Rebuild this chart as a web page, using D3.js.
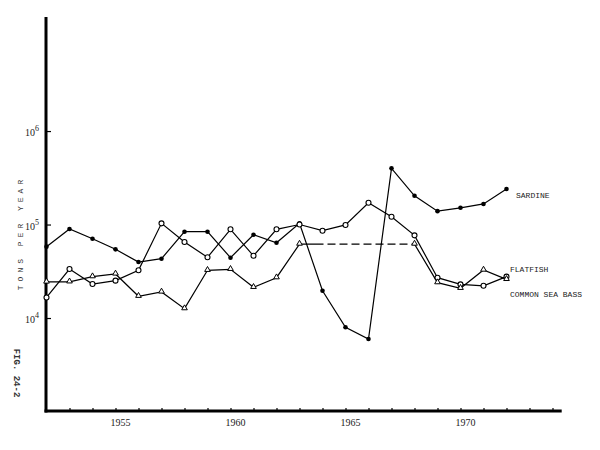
<!DOCTYPE html>
<html>
<head>
<meta charset="utf-8">
<script src="https://cdn.jsdelivr.net/npm/d3@7"></script>
<style>
  html, body { margin: 0; padding: 0; background: #fff; }
  svg { display: block; }
  text { white-space: pre; }
</style>
</head>
<body>
<svg id="chart" width="600" height="450"></svg>
<script>
// ---- data (tons per year) ----
const years = [1952,1953,1954,1955,1956,1957,1958,1959,1960,1961,1962,1963,1964,1965,1966,1967,1968,1969,1970,1971,1972];
const sardine = [58000,89500,70500,54300,39700,43100,83800,83800,44200,77800,63800,103000,19600,7960,5960,399000,203000,139000,151000,166000,240000];
const seaBass = [16600,33400,23100,25100,32400,103000,65000,44600,88900,46300,88900,100000,85900,99000,171000,121000,76600,27000,22900,22100,27700];
const flatfish = [24300,24400,27700,29600,17100,19000,12600,32400,33200,21300,27000,61800,null,null,null,null,61800,23900,20800,32600,25900];
const yTickValues = [1e4, 1e5, 1e6];
const yTickExponents = ["4", "5", "6"];
const xTickYears = d3.range(1953, 1975);
const xLabelYears = [1955, 1960, 1965, 1970];
const seriesLabels = ["SARDINE", "FLATFISH", "COMMON SEA BASS"];

const svg = d3.select("#chart");
const x = d3.scaleLinear().domain([1952, 1974.4]).range([46.5, 561.7]);
const y = d3.scaleLog().domain([1e3, Math.pow(10, 7.22)]).range([411.5, 17]);

const serif = "'Liberation Serif', 'DejaVu Serif', serif";
const mono = "'Liberation Mono', 'DejaVu Sans Mono', monospace";

// x axis ticks (upward) and labels
const xAxis = d3.axisBottom(x)
  .tickValues(xTickYears)
  .tickSizeInner(-3).tickSizeOuter(0)
  .tickFormat(() => "");
const gx = svg.append("g").attr("transform", "translate(0,411)").call(xAxis);
gx.select(".domain").remove();
gx.selectAll(".tick line").attr("stroke", "#000").attr("stroke-width", 1.2);

svg.append("g").selectAll("text").data(xLabelYears).join("text")
  .attr("x", d => x(d) + 5)
  .attr("y", 426)
  .attr("text-anchor", "middle")
  .attr("font-family", serif)
  .attr("font-size", 10)
  .attr("fill", "#222")
  .text(d => d);

// y axis ticks (to the right)
const yAxis = d3.axisRight(y).tickValues(yTickValues).tickSizeInner(5).tickSizeOuter(0).tickFormat(() => "");
const gy = svg.append("g").attr("transform", "translate(46,0)").call(yAxis);
gy.select(".domain").remove();
gy.selectAll(".tick line").attr("stroke", "#000").attr("stroke-width", 1.2);

const yl = svg.append("g").selectAll("text").data(yTickValues).join("text")
  .attr("x", 25)
  .attr("y", d => y(d) + 5)
  .attr("font-family", serif)
  .attr("font-size", 10)
  .attr("fill", "#222");
yl.append("tspan").text("10");
yl.append("tspan").attr("dy", -5).attr("font-size", 8).text((d, i) => yTickExponents[i]);

// thick axis lines
svg.append("line").attr("x1", 46).attr("x2", 46).attr("y1", y.range()[1]).attr("y2", 412.5)
  .attr("stroke", "#000").attr("stroke-width", 3);
svg.append("line").attr("x1", 44.5).attr("x2", x.range()[1]).attr("y1", 411).attr("y2", 411)
  .attr("stroke", "#000").attr("stroke-width", 3);

// axis title (vertical, spaced letters)
svg.append("text")
  .attr("transform", "translate(23,233) rotate(-90)")
  .attr("text-anchor", "middle")
  .attr("font-family", mono)
  .attr("font-size", 8)
  .attr("letter-spacing", 4)
  .attr("fill", "#333")
  .text("TONS PER YEAR");

svg.append("text")
  .attr("transform", "translate(14,373) rotate(90)")
  .attr("text-anchor", "middle")
  .attr("font-family", mono)
  .attr("font-size", 9)
  .attr("font-weight", "bold")
  .attr("fill", "#333")
  .text("FIG. 24-2");

// lines
const line = d3.line()
  .defined(d => d[1] != null)
  .x(d => x(d[0]))
  .y(d => y(d[1]));

function drawSeries(values) {
  const pts = years.map((yr, i) => [yr, values[i]]);
  svg.append("path").datum(pts)
    .attr("d", line)
    .attr("fill", "none")
    .attr("stroke", "#000")
    .attr("stroke-width", 1.2);
  return pts.filter(d => d[1] != null);
}

const sPts = drawSeries(sardine);
const bPts = drawSeries(seaBass);
const fPts = drawSeries(flatfish);

// dashed bridge over missing flatfish years
const fAll = years.map((yr, i) => [yr, flatfish[i]]);
const gapStart = fAll[flatfish.findIndex(v => v == null) - 1];
const gapEnd = fAll[flatfish.length - 1 - [...flatfish].reverse().findIndex(v => v == null) + 1];
svg.append("line")
  .attr("x1", x(gapStart[0])).attr("y1", y(gapStart[1]))
  .attr("x2", x(gapEnd[0])).attr("y2", y(gapEnd[1]))
  .attr("stroke", "#000").attr("stroke-width", 1.2)
  .attr("stroke-dasharray", "24,4,8,4,8,4,8,4,8,4,8,4,8,4,8,4,8,4,8,4");

// markers
svg.append("g").selectAll("circle").data(sPts).join("circle")
  .attr("cx", d => x(d[0])).attr("cy", d => y(d[1])).attr("r", 2.3)
  .attr("fill", "#000");

svg.append("g").selectAll("circle").data(bPts).join("circle")
  .attr("cx", d => x(d[0])).attr("cy", d => y(d[1])).attr("r", 2.5)
  .attr("fill", "#fff").attr("stroke", "#000").attr("stroke-width", 1.1);

const tri = d3.symbol().type(d3.symbolTriangle).size(14);
svg.append("g").selectAll("path").data(fPts).join("path")
  .attr("transform", d => `translate(${x(d[0])},${y(d[1]) - 0.5})`)
  .attr("d", tri)
  .attr("fill", "#fff").attr("stroke", "#000").attr("stroke-width", 1);

// series labels
const labelPos = [[516, 198], [510, 272], [510, 297]];
svg.append("g").selectAll("text").data(seriesLabels).join("text")
  .attr("x", (d, i) => labelPos[i][0])
  .attr("y", (d, i) => labelPos[i][1])
  .attr("font-family", mono)
  .attr("font-size", 8)
  .attr("fill", "#222")
  .text(d => d);
</script>
</body>
</html>
